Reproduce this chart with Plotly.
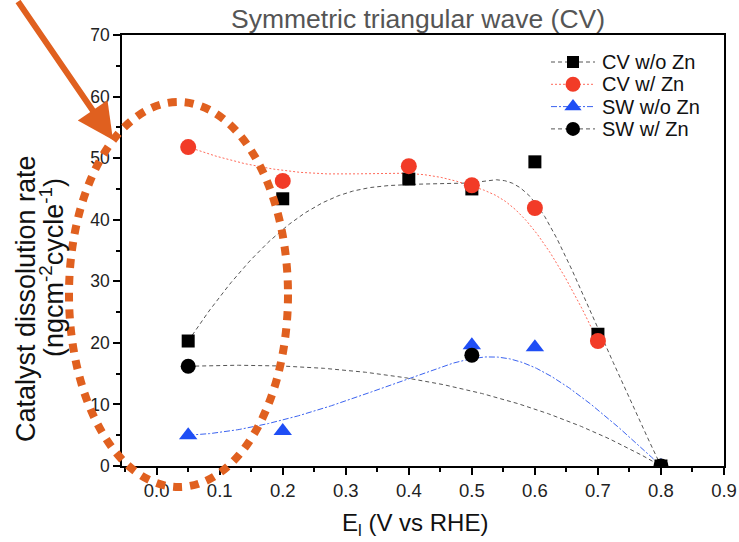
import numpy as np
import plotly.graph_objects as go

# Applied potential E_l (V vs RHE) and dissolution rate (ng cm^-2 cycle^-1)
x_cv_wo = [0.05, 0.2, 0.4, 0.5, 0.6, 0.7, 0.8]
y_cv_wo = [20.3, 43.4, 46.6, 45.0, 49.4, 21.4, 0.0]

x_cv_w = [0.05, 0.2, 0.4, 0.5, 0.6, 0.7]
y_cv_w = [51.8, 46.3, 48.7, 45.6, 41.9, 20.3]

x_sw_wo = [0.05, 0.2, 0.5, 0.6, 0.8]
y_sw_wo = [5.0, 5.7, 19.6, 19.3, 0.0]

x_sw_w = [0.05, 0.5, 0.8]
y_sw_w = [16.2, 18.0, 0.0]

x_ticks = [0.0, 0.1, 0.2, 0.3, 0.4, 0.5, 0.6, 0.7, 0.8, 0.9]
y_ticks = [0, 10, 20, 30, 40, 50, 60, 70]

ORANGE = "#E0601F"
FONT = "Liberation Sans, Arial, sans-serif"

# plot-area geometry in pixels (used to place paper-referenced decorations)
W, H = 739, 542
ML, MR, MT, MB = 122, 15, 35, 76
PW, PH = W - ML - MR, H - MT - MB


def px(xp):
    return (xp - ML) / PW


def py(yp):
    return (H - MB - yp) / PH


def bspline(xs, ys, n=400):
    """Clamped uniform B-spline using the data points as control points."""
    P = np.column_stack([xs, ys]).astype(float)
    m = len(P)
    k = min(3, m - 1)
    inner = np.linspace(0, 1, m - k + 1)[1:-1]
    knots = np.concatenate([np.zeros(k + 1), inner, np.ones(k + 1)])
    t = np.linspace(0, 1, n)
    nb = len(knots) - 1
    N = np.zeros((n, nb))
    for i in range(nb):
        N[:, i] = (t >= knots[i]) & (t < knots[i + 1])
    last = max(i for i in range(nb) if knots[i] < knots[i + 1])
    N[t >= 1.0, :] = 0
    N[t >= 1.0, last] = 1
    for p in range(1, k + 1):
        Nn = np.zeros((n, nb - p))
        for i in range(nb - p):
            d1 = knots[i + p] - knots[i]
            d2 = knots[i + p + 1] - knots[i + 1]
            a = (t - knots[i]) / d1 * N[:, i] if d1 > 0 else 0
            b = (knots[i + p + 1] - t) / d2 * N[:, i + 1] if d2 > 0 else 0
            Nn[:, i] = a + b
        N = Nn
    C = N @ P
    return C[:, 0], C[:, 1]


# name, x, y, marker symbol, marker colour, size, line colour, dash, legend row
series = [
    ("SW w/o Zn", x_sw_wo, y_sw_wo, "triangle-up", "#1F4EF5", 16, "#3B63F0", "6px,2px,2px,2px", 2),
    ("SW w/ Zn", x_sw_w, y_sw_w, "circle", "#000000", 15, "#555555", "4px,3px", 3),
    ("CV w/o Zn", x_cv_wo, y_cv_wo, "square", "#000000", 13, "#555555", "4px,3px", 0),
    ("CV w/ Zn", x_cv_w, y_cv_w, "circle", "#F23B27", 16, "#FF6A5A", "2px,2px", 1),
]

fig = go.Figure()

for name, xs, ys, sym, mcol, msize, lcol, dash, row in series:
    cx, cy = bspline(xs, ys)
    fig.add_trace(go.Scatter(
        x=cx, y=cy, mode="lines", showlegend=False, hoverinfo="skip",
        line=dict(color=lcol, width=1, dash=dash),
    ))

for name, xs, ys, sym, mcol, msize, lcol, dash, row in series:
    fig.add_trace(go.Scatter(
        x=xs, y=ys, mode="markers", name=name, showlegend=False,
        marker=dict(symbol=sym, color=mcol, size=msize, line=dict(width=0)),
    ))

# Legend drawn on a hidden pixel-unit overlay axis pair
LEG_LINE_X0, LEG_LINE_X1, LEG_MARK_X, LEG_TEXT_X = 551, 595, 573, 600
LEG_ROW0, LEG_DY = 62, 22.3
legend_annotations = []
for name, xs, ys, sym, mcol, msize, lcol, dash, row in series:
    yrow = LEG_ROW0 + row * LEG_DY
    fig.add_trace(go.Scatter(
        x=[LEG_LINE_X0, LEG_LINE_X1], y=[yrow, yrow], mode="lines",
        xaxis="x2", yaxis="y2", showlegend=False, hoverinfo="skip",
        line=dict(color=lcol, width=1, dash=dash),
    ))
    fig.add_trace(go.Scatter(
        x=[LEG_MARK_X], y=[yrow], mode="markers",
        xaxis="x2", yaxis="y2", showlegend=False, hoverinfo="skip",
        marker=dict(symbol=sym, color=mcol, size=msize - 1, line=dict(width=0)),
    ))
    legend_annotations.append(dict(
        text=name, x=LEG_TEXT_X, y=yrow, xref="x2", yref="y2",
        showarrow=False, xanchor="left", yanchor="middle",
        font=dict(family=FONT, size=20, color="#111111"),
    ))

axis_common = dict(
    showgrid=False, zeroline=False, showline=True, linecolor="black", linewidth=1.5,
    mirror=True, ticks="outside", ticklen=7, tickwidth=1.5, tickcolor="black",
    automargin=False,
)

fig.update_layout(
    xaxis=dict(
        range=[-0.055, 0.9], tickvals=x_ticks, tickformat=".1f",
        tickfont=dict(family=FONT, size=18.5, color="#222222"),
        minor=dict(dtick=0.05, tick0=0, ticks="outside", ticklen=4, tickwidth=1.5, tickcolor="black"),
        **axis_common,
    ),
    yaxis=dict(
        range=[0, 70], tickvals=y_ticks,
        tickfont=dict(family=FONT, size=17.5, color="#222222"),
        minor=dict(dtick=5, tick0=0, ticks="outside", ticklen=4, tickwidth=1.5, tickcolor="black"),
        **axis_common,
    ),
    xaxis2=dict(overlaying="x", range=[ML, W - MR], visible=False, fixedrange=True, automargin=False),
    yaxis2=dict(overlaying="y", range=[H - MB, MT], visible=False, fixedrange=True, automargin=False),
)

annotations = [
    dict(text="Symmetric triangular wave (CV)", x=px(418), y=py(19), xref="paper", yref="paper",
         showarrow=False, xanchor="center", yanchor="middle",
         font=dict(family=FONT, size=26.5, color="#555555")),
    dict(text="E<sub>l</sub> (V vs RHE)", x=px(415), y=py(524), xref="paper", yref="paper",
         showarrow=False, xanchor="center", yanchor="middle",
         font=dict(family=FONT, size=24, color="#111111")),
    dict(text="Catalyst dissolution rate", x=px(26), y=py(299), xref="paper", yref="paper",
         showarrow=False, xanchor="center", yanchor="middle", textangle=-90,
         font=dict(family=FONT, size=27, color="#111111")),
    dict(text="(ngcm<sup>-2</sup>cycle<sup>-1</sup>)", x=px(52), y=py(268), xref="paper", yref="paper",
         showarrow=False, xanchor="center", yanchor="middle", textangle=-90,
         font=dict(family=FONT, size=27, color="#111111")),
    # pointer arrow
    dict(text="", x=px(113), y=py(140), xref="paper", yref="paper",
         showarrow=True, ax=-96, ay=-152, arrowcolor=ORANGE, arrowwidth=6,
         arrowhead=2, arrowsize=1.2, standoff=0),
] + legend_annotations

shapes = [
    dict(type="circle", xref="paper", yref="paper",
         x0=px(69), x1=px(288), y0=py(487), y1=py(102),
         line=dict(color=ORANGE, width=8, dash="9px,8px"), layer="above"),
]

fig.update_layout(
    width=W, height=H,
    margin=dict(l=ML, r=MR, t=MT, b=MB, autoexpand=False),
    paper_bgcolor="white", plot_bgcolor="white",
    font=dict(family=FONT, color="#111111"),
    annotations=annotations, shapes=shapes,
    showlegend=False,
)

fig.write_html("out.html")
